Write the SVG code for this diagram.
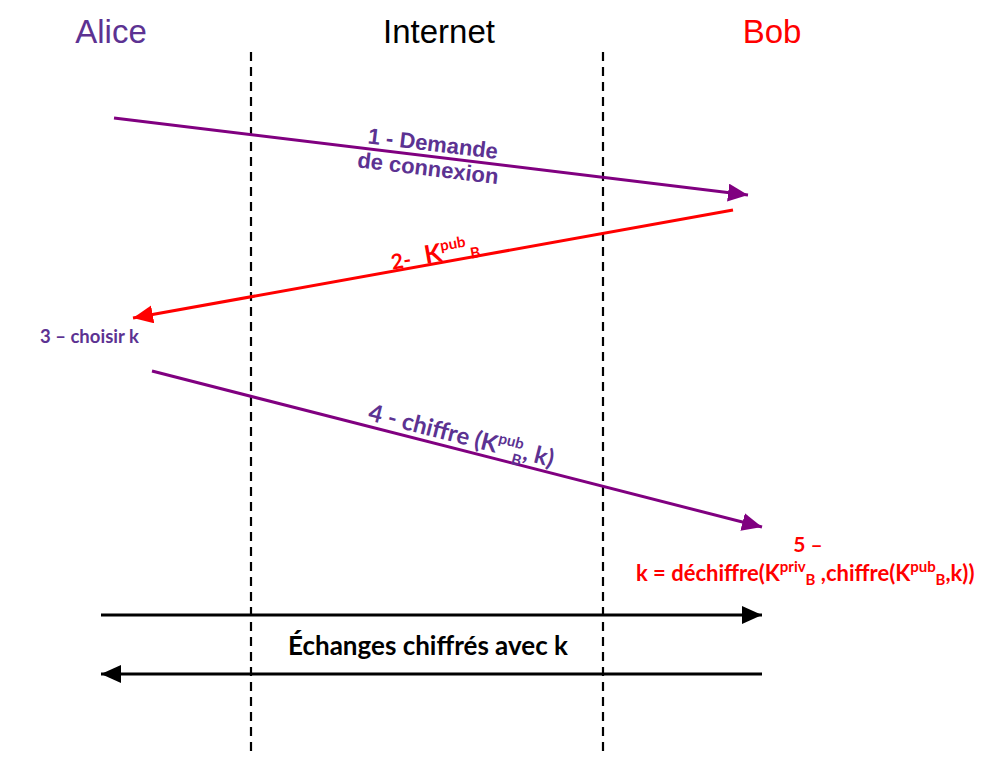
<svg xmlns="http://www.w3.org/2000/svg" width="990" height="757" viewBox="0 0 990 757">
<style>
.title{font-family:"Liberation Sans",Arial,sans-serif;font-size:33px;text-anchor:middle}
.lab{font-family:Lato,"Open Sans",sans-serif;font-weight:bold}
.arial{font-family:"Liberation Sans",Arial,sans-serif;font-weight:bold}
.dash{stroke:#000;stroke-width:2.2;stroke-dasharray:9,6;fill:none}
.pur{fill:#5c3292}
.red{fill:#ff0000}
</style>
<defs>
<marker id="mp" markerUnits="userSpaceOnUse" markerWidth="22" markerHeight="20" refX="20" refY="9" orient="auto"><path d="M0,0 L20,9 L0,18 Z" fill="#800080"/></marker>
<marker id="mr" markerUnits="userSpaceOnUse" markerWidth="22" markerHeight="20" refX="20" refY="9" orient="auto"><path d="M0,0 L20,9 L0,18 Z" fill="#ff0000"/></marker>
<marker id="mk" markerUnits="userSpaceOnUse" markerWidth="22" markerHeight="20" refX="20" refY="9" orient="auto"><path d="M0,0 L20,9 L0,18 Z" fill="#000"/></marker>
</defs>
<rect width="990" height="757" fill="#fff"/>
<g id="alice"><text class="title" x="111" y="43" fill="#5c3292">Alice</text></g>
<g id="internet"><text class="title" x="439" y="43" fill="#000">Internet</text></g>
<g id="bob"><text class="title" x="772" y="43" fill="#ff0000">Bob</text></g>
<g id="lifelines">
<line class="dash" x1="251" y1="52" x2="251" y2="752"/>
<line class="dash" x1="603" y1="52" x2="603" y2="752"/>
</g>
<g id="connectors" fill="none">
<line x1="114" y1="118" x2="748" y2="195" stroke="#800080" stroke-width="3" marker-end="url(#mp)"/>
<line x1="733" y1="210" x2="133" y2="318" stroke="#ff0000" stroke-width="3" marker-end="url(#mr)"/>
<line x1="152" y1="371" x2="762" y2="527" stroke="#800080" stroke-width="3" marker-end="url(#mp)"/>
<line x1="101" y1="615" x2="762" y2="615" stroke="#000" stroke-width="3" marker-end="url(#mk)"/>
<line x1="762" y1="674" x2="101" y2="674" stroke="#000" stroke-width="3" marker-end="url(#mk)"/>
</g>
<g id="label1" transform="rotate(6.9 431 160)">
<text class="arial pur" x="431" y="151" font-size="22" text-anchor="middle">1 - Demande</text>
<text class="arial pur" x="429" y="176" font-size="22" text-anchor="middle">de connexion</text>
</g>
<g id="label2" transform="rotate(-10.2 430 258)">
<text class="lab red" x="391" y="263" font-size="21">2-<tspan dx="14" font-size="25">K</tspan><tspan font-size="15" dy="-10">pub</tspan><tspan font-size="15" dy="13" dx="3">B</tspan></text>
</g>
<g id="step3"><text class="lab pur" x="40" y="343" font-size="18.5">3 – choisir k</text></g>
<g id="label4" transform="rotate(14.3 367 420)">
<text class="lab pur" x="367" y="420" font-size="24">4 - chiffre (K<tspan font-size="15" dy="-10">pub</tspan><tspan font-size="15" dy="17" dx="-8">B</tspan><tspan dy="-7">, k)</tspan></text>
</g>
<g id="step5">
<text class="lab red" x="808" y="552" font-size="21" text-anchor="middle">5 –</text>
<text class="lab red" x="636" y="581" font-size="22">k = déchiffre(K<tspan font-size="15" dy="-9">priv</tspan><tspan font-size="15" dy="13">B</tspan><tspan dy="-4"> ,chiffre(K</tspan><tspan font-size="15" dy="-9">pub</tspan><tspan font-size="15" dy="13">B</tspan><tspan dy="-4">,k))</tspan></text>
</g>
<g id="echanges"><text class="lab" x="428" y="655" font-size="26" text-anchor="middle" fill="#000">Échanges chiffrés avec k</text></g>
</svg>
